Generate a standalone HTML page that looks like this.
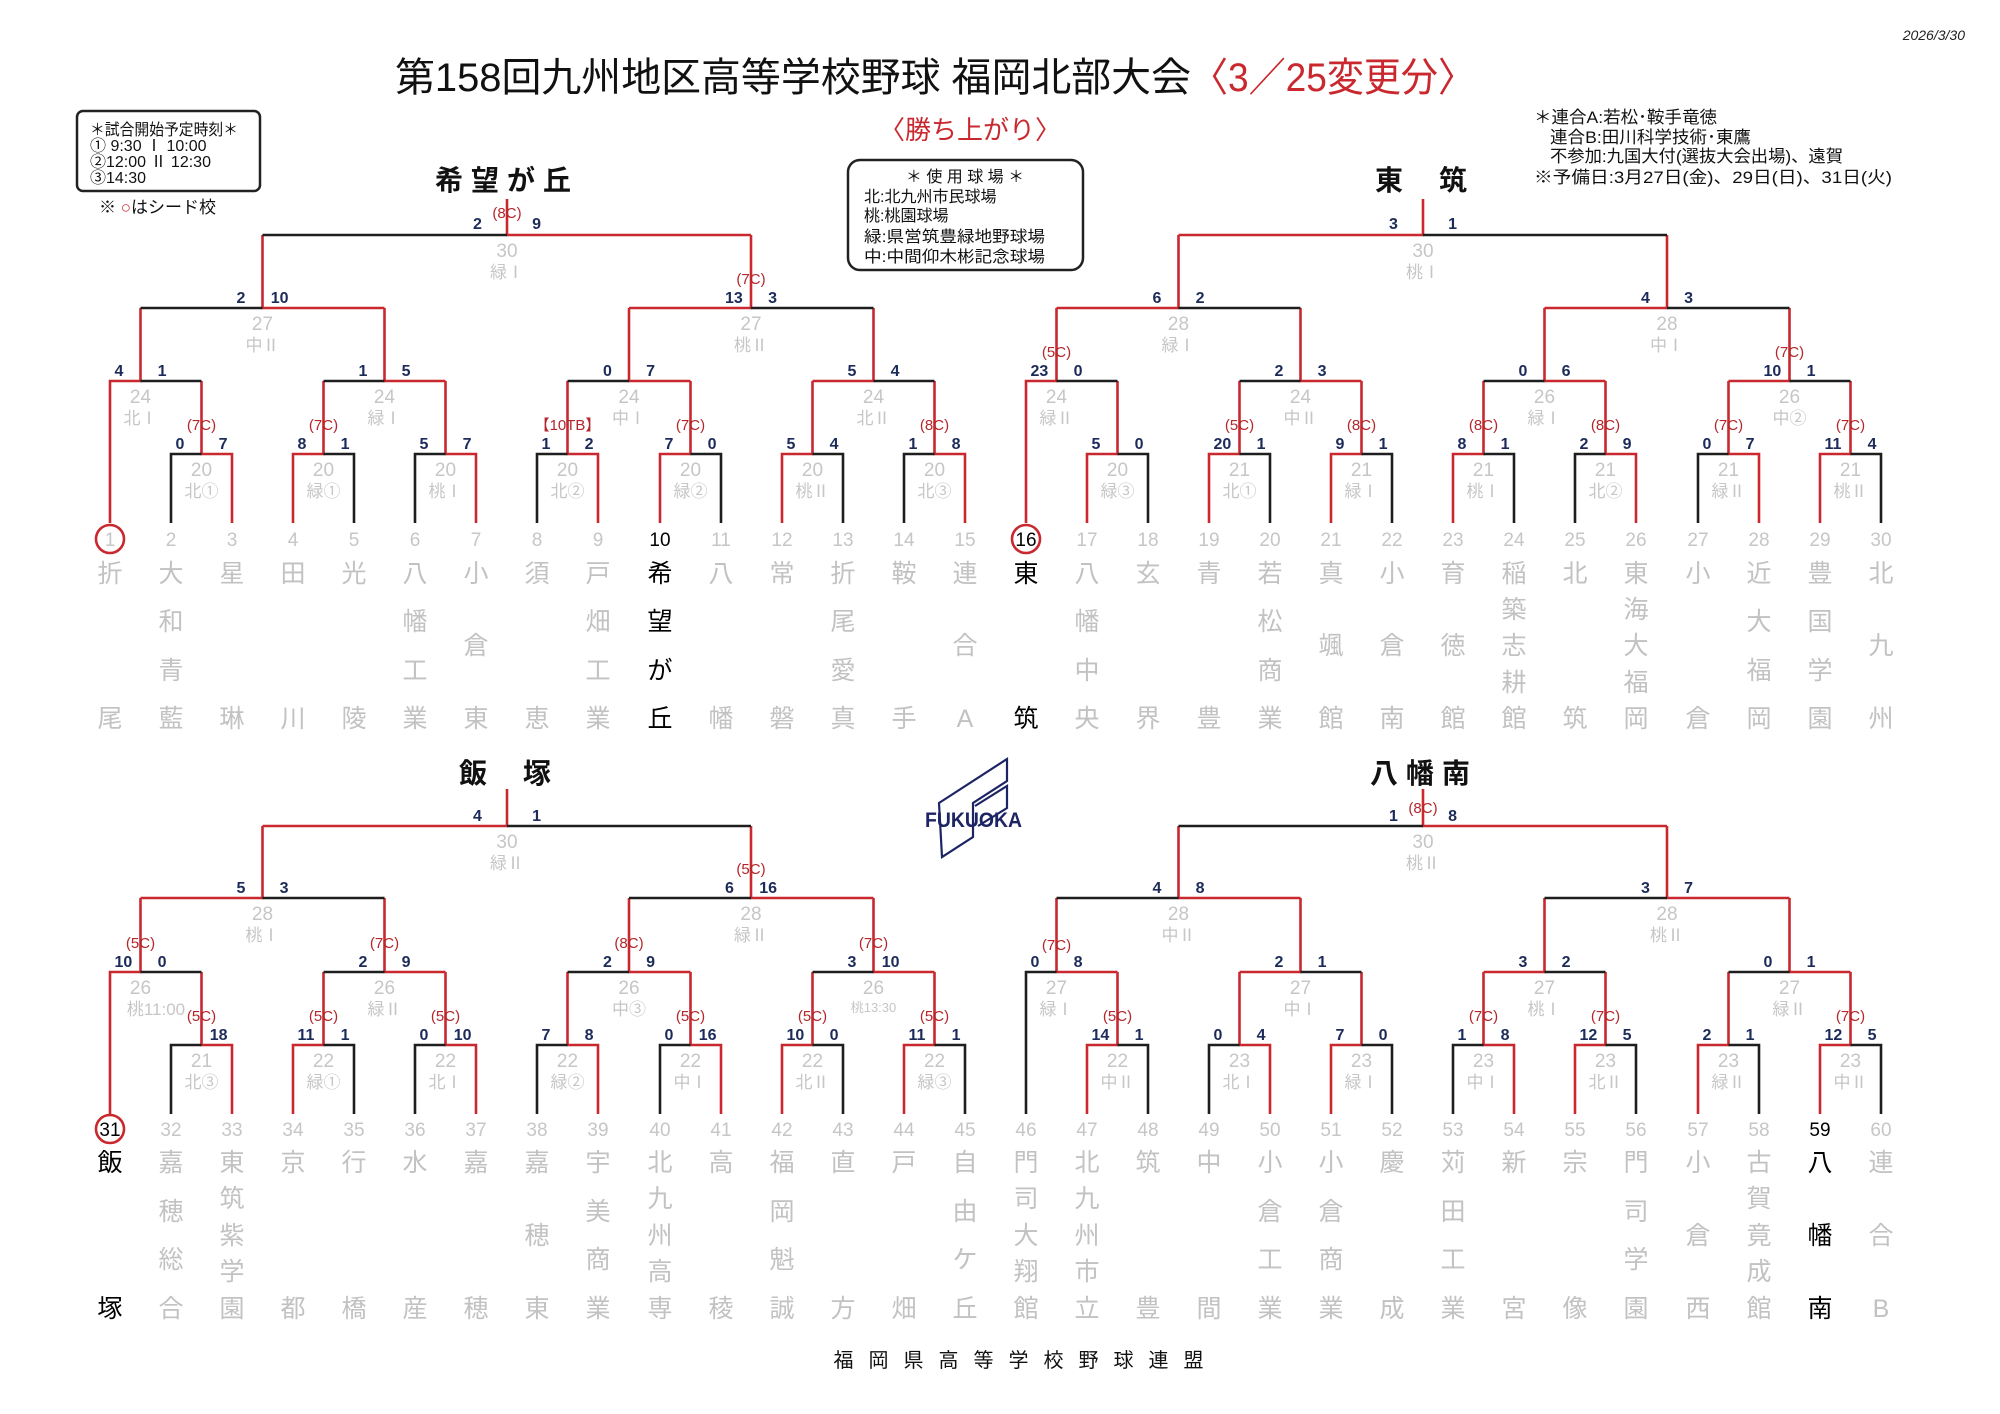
<!DOCTYPE html>
<html><head><meta charset="utf-8"><style>
html,body{margin:0;padding:0;background:#fff;}
svg{display:block}
.r{fill:none;stroke:#c8282e;stroke-width:2.6}
.k{fill:none;stroke:#1e1e1e;stroke-width:2.6}
.s{font:bold 16px "Liberation Sans",sans-serif;fill:#1c2b5a}
.e{text-anchor:end}
.g{font:19px "Liberation Sans",sans-serif;fill:#c6c6c6;text-anchor:middle}
.v{font:17px "Liberation Sans","Noto Sans CJK JP",sans-serif;fill:#c6c6c6;text-anchor:middle}
.n{font:15px "Liberation Sans","Noto Sans CJK JP",sans-serif;fill:#b3262b;text-anchor:middle}
.num{font:19px "Liberation Sans",sans-serif;fill:#c6c6c6;text-anchor:middle}
.t{font:25px "Liberation Sans","Noto Sans CJK JP",sans-serif;fill:#c2c2c2;text-anchor:middle}
.b{fill:#000}
.h{font:bold 28px "Liberation Sans","Noto Sans CJK JP",sans-serif;fill:#111;text-anchor:middle}
.j{font-family:"Liberation Sans","Noto Sans CJK JP",sans-serif}
</style></head><body>
<svg width="2000" height="1414" viewBox="0 0 2000 1414" xmlns="http://www.w3.org/2000/svg">
<rect width="2000" height="1414" fill="#fff"/>
<!-- header -->
<text x="1965" y="40" class="j" font-size="14" font-style="italic" text-anchor="end" fill="#222">2026/3/30</text>
<text x="395" y="91" class="j" font-size="40" fill="#111" textLength="796" lengthAdjust="spacingAndGlyphs">第158回九州地区高等学校野球 福岡北部大会</text>
<text x="1191" y="91" class="j" font-size="40" fill="#c8282e" textLength="284" lengthAdjust="spacingAndGlyphs">〈3／25変更分〉</text>
<text x="970" y="139" class="j" font-size="26" fill="#c8282e" text-anchor="middle">〈勝ち上がり〉</text>
<rect x="77" y="111" width="183" height="80" rx="6" fill="none" stroke="#222" stroke-width="2.5"/>
<g class="j" font-size="16" fill="#111">
<text x="90" y="135" textLength="148" lengthAdjust="spacingAndGlyphs">＊試合開始予定時刻＊</text>
<text x="90" y="151">①  9:30  Ⅰ 10:00</text>
<text x="90" y="167">②12:00  Ⅱ 12:30</text>
<text x="90" y="183">③14:30</text>
</g>
<text x="99" y="213" class="j" font-size="17" fill="#111">※ <tspan fill="#c8282e">○</tspan>はシード校</text>
<rect x="848" y="160" width="235" height="110" rx="12" fill="none" stroke="#222" stroke-width="2.5"/>
<g class="j" font-size="16" fill="#111">
<text x="965" y="182" text-anchor="middle">＊ 使 用 球 場 ＊</text>
<text x="864" y="202">北:北九州市民球場</text>
<text x="864" y="221">桃:桃園球場</text>
<text x="864" y="242" textLength="181" lengthAdjust="spacingAndGlyphs">緑:県営筑豊緑地野球場</text>
<text x="864" y="262" textLength="181" lengthAdjust="spacingAndGlyphs">中:中間仰木彬記念球場</text>
</g>
<g class="j" font-size="17" fill="#111">
<text x="1534" y="123" textLength="183" lengthAdjust="spacingAndGlyphs">＊連合A:若松･鞍手竜徳</text>
<text x="1550" y="143" textLength="201" lengthAdjust="spacingAndGlyphs">連合B:田川科学技術･東鷹</text>
<text x="1550" y="162" textLength="293" lengthAdjust="spacingAndGlyphs">不参加:九国大付(選抜大会出場)、遠賀</text>
<text x="1534" y="183" textLength="358" lengthAdjust="spacingAndGlyphs">※予備日:3月27日(金)、29日(日)、31日(火)</text>
</g>
<text x="507" y="190" class="h" letter-spacing="8">希望が丘</text>
<text x="1423" y="190" class="h" letter-spacing="4">東　筑</text>
<text x="507" y="783" class="h" letter-spacing="4">飯　塚</text>
<text x="1424" y="783" class="h" letter-spacing="8">八幡南</text>
<text x="1026" y="1367" class="j" font-size="20" fill="#111" text-anchor="middle" letter-spacing="15">福岡県高等学校野球連盟</text>
<!-- logo -->
<g fill="none" stroke="#1c2464" stroke-width="2.2">
<path d="M939 803 L1007 759 L1007 781 L973 803 L973 837 L942 857 Z"/>
<path d="M975 806 L1007 786 L1007 808 L978 826"/>
</g>
<text x="925" y="827" font-family="Liberation Sans,sans-serif" font-weight="bold" font-size="21" fill="#1c2464" textLength="97" lengthAdjust="spacingAndGlyphs">FUKUOKA</text>

<!-- TOP LINES -->
<path class="r" d="M201.5 381V454H232V523"/><path class="k" d="M201.5 454H171V523"/>
<path class="r" d="M323.5 381V454H293V523"/><path class="k" d="M323.5 454H354V523"/>
<path class="r" d="M445.5 381V454H476V523"/><path class="k" d="M445.5 454H415V523"/>
<path class="r" d="M567.5 381V454H598V523"/><path class="k" d="M567.5 454H537V523"/>
<path class="r" d="M690.5 381V454H660V523"/><path class="k" d="M690.5 454H721V523"/>
<path class="r" d="M812.5 381V454H782V523"/><path class="k" d="M812.5 454H843V523"/>
<path class="r" d="M934.5 381V454H965V523"/><path class="k" d="M934.5 454H904V523"/>
<path class="r" d="M140.5 308V381H110V523"/><path class="k" d="M140.5 381H201.5"/>
<path class="r" d="M384.5 308V381H445.5"/><path class="k" d="M384.5 381H323.5"/>
<path class="r" d="M629 308V381H690.5"/><path class="k" d="M629 381H567.5"/>
<path class="r" d="M873.5 308V381H812.5"/><path class="k" d="M873.5 381H934.5"/>
<path class="r" d="M262.5 235V308H384.5"/><path class="k" d="M262.5 308H140.5"/>
<path class="r" d="M751 235V308H629"/><path class="k" d="M751 308H873.5"/>
<path class="r" d="M507 199V235H751"/><path class="k" d="M507 235H262.5"/>

<path class="r" d="M1117.5 381V454H1087V523"/><path class="k" d="M1117.5 454H1148V523"/>
<path class="r" d="M1239.5 381V454H1209V523"/><path class="k" d="M1239.5 454H1270V523"/>
<path class="r" d="M1361.5 381V454H1331V523"/><path class="k" d="M1361.5 454H1392V523"/>
<path class="r" d="M1483.5 381V454H1453V523"/><path class="k" d="M1483.5 454H1514V523"/>
<path class="r" d="M1605.5 381V454H1636V523"/><path class="k" d="M1605.5 454H1575V523"/>
<path class="r" d="M1728.5 381V454H1759V523"/><path class="k" d="M1728.5 454H1698V523"/>
<path class="r" d="M1850.5 381V454H1820V523"/><path class="k" d="M1850.5 454H1881V523"/>
<path class="r" d="M1056.5 308V381H1026V523"/><path class="k" d="M1056.5 381H1117.5"/>
<path class="r" d="M1300.5 308V381H1361.5"/><path class="k" d="M1300.5 381H1239.5"/>
<path class="r" d="M1544.5 308V381H1605.5"/><path class="k" d="M1544.5 381H1483.5"/>
<path class="r" d="M1789.5 308V381H1728.5"/><path class="k" d="M1789.5 381H1850.5"/>
<path class="r" d="M1178.5 235V308H1056.5"/><path class="k" d="M1178.5 308H1300.5"/>
<path class="r" d="M1667 235V308H1544.5"/><path class="k" d="M1667 308H1789.5"/>
<path class="r" d="M1423 199V235H1178.5"/><path class="k" d="M1423 235H1667"/>

<!-- BOTTOM LINES -->
<path class="r" d="M201.5 972V1045H232V1114"/><path class="k" d="M201.5 1045H171V1114"/>
<path class="r" d="M323.5 972V1045H293V1114"/><path class="k" d="M323.5 1045H354V1114"/>
<path class="r" d="M445.5 972V1045H476V1114"/><path class="k" d="M445.5 1045H415V1114"/>
<path class="r" d="M567.5 972V1045H598V1114"/><path class="k" d="M567.5 1045H537V1114"/>
<path class="r" d="M690.5 972V1045H721V1114"/><path class="k" d="M690.5 1045H660V1114"/>
<path class="r" d="M812.5 972V1045H782V1114"/><path class="k" d="M812.5 1045H843V1114"/>
<path class="r" d="M934.5 972V1045H904V1114"/><path class="k" d="M934.5 1045H965V1114"/>
<path class="r" d="M140.5 898V972H110V1114"/><path class="k" d="M140.5 972H201.5"/>
<path class="r" d="M384.5 898V972H445.5"/><path class="k" d="M384.5 972H323.5"/>
<path class="r" d="M629 898V972H690.5"/><path class="k" d="M629 972H567.5"/>
<path class="r" d="M873.5 898V972H934.5"/><path class="k" d="M873.5 972H812.5"/>
<path class="r" d="M262.5 826V898H140.5"/><path class="k" d="M262.5 898H384.5"/>
<path class="r" d="M751 826V898H873.5"/><path class="k" d="M751 898H629"/>
<path class="r" d="M507 789V826H262.5"/><path class="k" d="M507 826H751"/>

<path class="r" d="M1117.5 972V1045H1087V1114"/><path class="k" d="M1117.5 1045H1148V1114"/>
<path class="r" d="M1239.5 972V1045H1270V1114"/><path class="k" d="M1239.5 1045H1209V1114"/>
<path class="r" d="M1361.5 972V1045H1331V1114"/><path class="k" d="M1361.5 1045H1392V1114"/>
<path class="r" d="M1483.5 972V1045H1514V1114"/><path class="k" d="M1483.5 1045H1453V1114"/>
<path class="r" d="M1605.5 972V1045H1575V1114"/><path class="k" d="M1605.5 1045H1636V1114"/>
<path class="r" d="M1728.5 972V1045H1698V1114"/><path class="k" d="M1728.5 1045H1759V1114"/>
<path class="r" d="M1850.5 972V1045H1820V1114"/><path class="k" d="M1850.5 1045H1881V1114"/>
<path class="r" d="M1056.5 898V972H1117.5"/><path class="k" d="M1056.5 972H1026V1114"/>
<path class="r" d="M1300.5 898V972H1239.5"/><path class="k" d="M1300.5 972H1361.5"/>
<path class="r" d="M1544.5 898V972H1483.5"/><path class="k" d="M1544.5 972H1605.5"/>
<path class="r" d="M1789.5 898V972H1850.5"/><path class="k" d="M1789.5 972H1728.5"/>
<path class="r" d="M1178.5 826V898H1300.5"/><path class="k" d="M1178.5 898H1056.5"/>
<path class="r" d="M1667 826V898H1789.5"/><path class="k" d="M1667 898H1544.5"/>
<path class="r" d="M1423 789V826H1667"/><path class="k" d="M1423 826H1178.5"/>

<!-- TOP TEXTS R1 -->
<text class="s" x="175.5" y="449">0</text><text class="s e" x="227.5" y="449">7</text><text class="g" x="201.5" y="476">20</text><text class="v" x="201.5" y="497">北①</text><text class="n" x="201.5" y="430">(7C)</text>
<text class="s" x="297.5" y="449">8</text><text class="s e" x="349.5" y="449">1</text><text class="g" x="323.5" y="476">20</text><text class="v" x="323.5" y="497">緑①</text><text class="n" x="323.5" y="430">(7C)</text>
<text class="s" x="419.5" y="449">5</text><text class="s e" x="471.5" y="449">7</text><text class="g" x="445.5" y="476">20</text><text class="v" x="445.5" y="497">桃Ⅰ</text>
<text class="s" x="541.5" y="449">1</text><text class="s e" x="593.5" y="449">2</text><text class="g" x="567.5" y="476">20</text><text class="v" x="567.5" y="497">北②</text><text class="n" x="567.5" y="430">【10TB】</text>
<text class="s" x="664.5" y="449">7</text><text class="s e" x="716.5" y="449">0</text><text class="g" x="690.5" y="476">20</text><text class="v" x="690.5" y="497">緑②</text><text class="n" x="690.5" y="430">(7C)</text>
<text class="s" x="786.5" y="449">5</text><text class="s e" x="838.5" y="449">4</text><text class="g" x="812.5" y="476">20</text><text class="v" x="812.5" y="497">桃Ⅱ</text>
<text class="s" x="908.5" y="449">1</text><text class="s e" x="960.5" y="449">8</text><text class="g" x="934.5" y="476">20</text><text class="v" x="934.5" y="497">北③</text><text class="n" x="934.5" y="430">(8C)</text>
<text class="s" x="1091.5" y="449">5</text><text class="s e" x="1143.5" y="449">0</text><text class="g" x="1117.5" y="476">20</text><text class="v" x="1117.5" y="497">緑③</text>
<text class="s" x="1213.5" y="449">20</text><text class="s e" x="1265.5" y="449">1</text><text class="g" x="1239.5" y="476">21</text><text class="v" x="1239.5" y="497">北①</text><text class="n" x="1239.5" y="430">(5C)</text>
<text class="s" x="1335.5" y="449">9</text><text class="s e" x="1387.5" y="449">1</text><text class="g" x="1361.5" y="476">21</text><text class="v" x="1361.5" y="497">緑Ⅰ</text><text class="n" x="1361.5" y="430">(8C)</text>
<text class="s" x="1457.5" y="449">8</text><text class="s e" x="1509.5" y="449">1</text><text class="g" x="1483.5" y="476">21</text><text class="v" x="1483.5" y="497">桃Ⅰ</text><text class="n" x="1483.5" y="430">(8C)</text>
<text class="s" x="1579.5" y="449">2</text><text class="s e" x="1631.5" y="449">9</text><text class="g" x="1605.5" y="476">21</text><text class="v" x="1605.5" y="497">北②</text><text class="n" x="1605.5" y="430">(8C)</text>
<text class="s" x="1702.5" y="449">0</text><text class="s e" x="1754.5" y="449">7</text><text class="g" x="1728.5" y="476">21</text><text class="v" x="1728.5" y="497">緑Ⅱ</text><text class="n" x="1728.5" y="430">(7C)</text>
<text class="s" x="1824.5" y="449">11</text><text class="s e" x="1876.5" y="449">4</text><text class="g" x="1850.5" y="476">21</text><text class="v" x="1850.5" y="497">桃Ⅱ</text><text class="n" x="1850.5" y="430">(7C)</text>
<!-- TOP R2 -->
<text class="s" x="114.5" y="376">4</text><text class="s e" x="166.5" y="376">1</text><text class="g" x="140.5" y="403">24</text><text class="v" x="140.5" y="424">北Ⅰ</text>
<text class="s" x="358.5" y="376">1</text><text class="s e" x="410.5" y="376">5</text><text class="g" x="384.5" y="403">24</text><text class="v" x="384.5" y="424">緑Ⅰ</text>
<text class="s" x="603" y="376">0</text><text class="s e" x="655" y="376">7</text><text class="g" x="629" y="403">24</text><text class="v" x="629" y="424">中Ⅰ</text>
<text class="s" x="847.5" y="376">5</text><text class="s e" x="899.5" y="376">4</text><text class="g" x="873.5" y="403">24</text><text class="v" x="873.5" y="424">北Ⅱ</text>
<text class="s" x="1030.5" y="376">23</text><text class="s e" x="1082.5" y="376">0</text><text class="g" x="1056.5" y="403">24</text><text class="v" x="1056.5" y="424">緑Ⅱ</text><text class="n" x="1056.5" y="357">(5C)</text>
<text class="s" x="1274.5" y="376">2</text><text class="s e" x="1326.5" y="376">3</text><text class="g" x="1300.5" y="403">24</text><text class="v" x="1300.5" y="424">中Ⅱ</text>
<text class="s" x="1518.5" y="376">0</text><text class="s e" x="1570.5" y="376">6</text><text class="g" x="1544.5" y="403">26</text><text class="v" x="1544.5" y="424">緑Ⅰ</text>
<text class="s" x="1763.5" y="376">10</text><text class="s e" x="1815.5" y="376">1</text><text class="g" x="1789.5" y="403">26</text><text class="v" x="1789.5" y="424">中②</text><text class="n" x="1789.5" y="357">(7C)</text>
<!-- TOP R3/R4 -->
<text class="s" x="236.5" y="303">2</text><text class="s e" x="288.5" y="303">10</text><text class="g" x="262.5" y="330">27</text><text class="v" x="262.5" y="351">中Ⅱ</text>
<text class="s" x="725" y="303">13</text><text class="s e" x="777" y="303">3</text><text class="g" x="751" y="330">27</text><text class="v" x="751" y="351">桃Ⅱ</text><text class="n" x="751" y="284">(7C)</text>
<text class="s" x="1152.5" y="303">6</text><text class="s e" x="1204.5" y="303">2</text><text class="g" x="1178.5" y="330">28</text><text class="v" x="1178.5" y="351">緑Ⅰ</text>
<text class="s" x="1641" y="303">4</text><text class="s e" x="1693" y="303">3</text><text class="g" x="1667" y="330">28</text><text class="v" x="1667" y="351">中Ⅰ</text>
<text class="s" x="473" y="229">2</text><text class="s e" x="541" y="229">9</text><text class="g" x="507" y="257">30</text><text class="v" x="507" y="278">緑Ⅰ</text><text class="n" x="507" y="218">(8C)</text>
<text class="s" x="1389" y="229">3</text><text class="s e" x="1457" y="229">1</text><text class="g" x="1423" y="257">30</text><text class="v" x="1423" y="278">桃Ⅰ</text>

<!-- BOTTOM R1 -->
<text class="s e" x="227.5" y="1040">18</text><text class="g" x="201.5" y="1067">21</text><text class="v" x="201.5" y="1088">北③</text><text class="n" x="201.5" y="1021">(5C)</text>
<text class="s" x="297.5" y="1040">11</text><text class="s e" x="349.5" y="1040">1</text><text class="g" x="323.5" y="1067">22</text><text class="v" x="323.5" y="1088">緑①</text><text class="n" x="323.5" y="1021">(5C)</text>
<text class="s" x="419.5" y="1040">0</text><text class="s e" x="471.5" y="1040">10</text><text class="g" x="445.5" y="1067">22</text><text class="v" x="445.5" y="1088">北Ⅰ</text><text class="n" x="445.5" y="1021">(5C)</text>
<text class="s" x="541.5" y="1040">7</text><text class="s e" x="593.5" y="1040">8</text><text class="g" x="567.5" y="1067">22</text><text class="v" x="567.5" y="1088">緑②</text>
<text class="s" x="664.5" y="1040">0</text><text class="s e" x="716.5" y="1040">16</text><text class="g" x="690.5" y="1067">22</text><text class="v" x="690.5" y="1088">中Ⅰ</text><text class="n" x="690.5" y="1021">(5C)</text>
<text class="s" x="786.5" y="1040">10</text><text class="s e" x="838.5" y="1040">0</text><text class="g" x="812.5" y="1067">22</text><text class="v" x="812.5" y="1088">北Ⅱ</text><text class="n" x="812.5" y="1021">(5C)</text>
<text class="s" x="908.5" y="1040">11</text><text class="s e" x="960.5" y="1040">1</text><text class="g" x="934.5" y="1067">22</text><text class="v" x="934.5" y="1088">緑③</text><text class="n" x="934.5" y="1021">(5C)</text>
<text class="s" x="1091.5" y="1040">14</text><text class="s e" x="1143.5" y="1040">1</text><text class="g" x="1117.5" y="1067">22</text><text class="v" x="1117.5" y="1088">中Ⅱ</text><text class="n" x="1117.5" y="1021">(5C)</text>
<text class="s" x="1213.5" y="1040">0</text><text class="s e" x="1265.5" y="1040">4</text><text class="g" x="1239.5" y="1067">23</text><text class="v" x="1239.5" y="1088">北Ⅰ</text>
<text class="s" x="1335.5" y="1040">7</text><text class="s e" x="1387.5" y="1040">0</text><text class="g" x="1361.5" y="1067">23</text><text class="v" x="1361.5" y="1088">緑Ⅰ</text>
<text class="s" x="1457.5" y="1040">1</text><text class="s e" x="1509.5" y="1040">8</text><text class="g" x="1483.5" y="1067">23</text><text class="v" x="1483.5" y="1088">中Ⅰ</text><text class="n" x="1483.5" y="1021">(7C)</text>
<text class="s" x="1579.5" y="1040">12</text><text class="s e" x="1631.5" y="1040">5</text><text class="g" x="1605.5" y="1067">23</text><text class="v" x="1605.5" y="1088">北Ⅱ</text><text class="n" x="1605.5" y="1021">(7C)</text>
<text class="s" x="1702.5" y="1040">2</text><text class="s e" x="1754.5" y="1040">1</text><text class="g" x="1728.5" y="1067">23</text><text class="v" x="1728.5" y="1088">緑Ⅱ</text>
<text class="s" x="1824.5" y="1040">12</text><text class="s e" x="1876.5" y="1040">5</text><text class="g" x="1850.5" y="1067">23</text><text class="v" x="1850.5" y="1088">中Ⅱ</text><text class="n" x="1850.5" y="1021">(7C)</text>
<!-- BOTTOM R2 -->
<text class="s" x="114.5" y="967">10</text><text class="s e" x="166.5" y="967">0</text><text class="g" x="140.5" y="994">26</text><text class="v" x="156" y="1015">桃11:00</text><text class="n" x="140.5" y="948">(5C)</text>
<text class="s" x="358.5" y="967">2</text><text class="s e" x="410.5" y="967">9</text><text class="g" x="384.5" y="994">26</text><text class="v" x="384.5" y="1015">緑Ⅱ</text><text class="n" x="384.5" y="948">(7C)</text>
<text class="s" x="603" y="967">2</text><text class="s e" x="655" y="967">9</text><text class="g" x="629" y="994">26</text><text class="v" x="629" y="1015">中③</text><text class="n" x="629" y="948">(8C)</text>
<text class="s" x="847.5" y="967">3</text><text class="s e" x="899.5" y="967">10</text><text class="g" x="873.5" y="994">26</text><text class="v" x="873.5" y="1012" style="font-size:13px">桃13:30</text><text class="n" x="873.5" y="948">(7C)</text>
<text class="s" x="1030.5" y="967">0</text><text class="s e" x="1082.5" y="967">8</text><text class="g" x="1056.5" y="994">27</text><text class="v" x="1056.5" y="1015">緑Ⅰ</text><text class="n" x="1056.5" y="950">(7C)</text>
<text class="s" x="1274.5" y="967">2</text><text class="s e" x="1326.5" y="967">1</text><text class="g" x="1300.5" y="994">27</text><text class="v" x="1300.5" y="1015">中Ⅰ</text>
<text class="s" x="1518.5" y="967">3</text><text class="s e" x="1570.5" y="967">2</text><text class="g" x="1544.5" y="994">27</text><text class="v" x="1544.5" y="1015">桃Ⅰ</text>
<text class="s" x="1763.5" y="967">0</text><text class="s e" x="1815.5" y="967">1</text><text class="g" x="1789.5" y="994">27</text><text class="v" x="1789.5" y="1015">緑Ⅱ</text>
<!-- BOTTOM R3/R4 -->
<text class="s" x="236.5" y="893">5</text><text class="s e" x="288.5" y="893">3</text><text class="g" x="262.5" y="920">28</text><text class="v" x="262.5" y="941">桃Ⅰ</text>
<text class="s" x="725" y="893">6</text><text class="s e" x="777" y="893">16</text><text class="g" x="751" y="920">28</text><text class="v" x="751" y="941">緑Ⅱ</text><text class="n" x="751" y="874">(5C)</text>
<text class="s" x="1152.5" y="893">4</text><text class="s e" x="1204.5" y="893">8</text><text class="g" x="1178.5" y="920">28</text><text class="v" x="1178.5" y="941">中Ⅱ</text>
<text class="s" x="1641" y="893">3</text><text class="s e" x="1693" y="893">7</text><text class="g" x="1667" y="920">28</text><text class="v" x="1667" y="941">桃Ⅱ</text>
<text class="s" x="473" y="821">4</text><text class="s e" x="541" y="821">1</text><text class="g" x="507" y="848">30</text><text class="v" x="507" y="869">緑Ⅱ</text>
<text class="s" x="1389" y="821">1</text><text class="s e" x="1457" y="821">8</text><text class="g" x="1423" y="848">30</text><text class="v" x="1423" y="869">桃Ⅱ</text><text class="n" x="1423" y="813">(8C)</text>

<!-- seed circles -->
<circle cx="110" cy="539" r="14" fill="none" stroke="#c8282e" stroke-width="2.6"/>
<circle cx="1026" cy="539" r="14" fill="none" stroke="#c8282e" stroke-width="2.6"/>
<circle cx="110" cy="1129" r="14" fill="none" stroke="#c8282e" stroke-width="2.6"/>

<!-- TOP numbers -->
<g class="num">
<text x="110" y="546">1</text><text x="171" y="546">2</text><text x="232" y="546">3</text><text x="293" y="546">4</text><text x="354" y="546">5</text><text x="415" y="546">6</text><text x="476" y="546">7</text><text x="537" y="546">8</text><text x="598" y="546">9</text><text x="660" y="546" fill="#000">10</text><text x="721" y="546">11</text><text x="782" y="546">12</text><text x="843" y="546">13</text><text x="904" y="546">14</text><text x="965" y="546">15</text>
<text x="1026" y="546" fill="#000">16</text><text x="1087" y="546">17</text><text x="1148" y="546">18</text><text x="1209" y="546">19</text><text x="1270" y="546">20</text><text x="1331" y="546">21</text><text x="1392" y="546">22</text><text x="1453" y="546">23</text><text x="1514" y="546">24</text><text x="1575" y="546">25</text><text x="1636" y="546">26</text><text x="1698" y="546">27</text><text x="1759" y="546">28</text><text x="1820" y="546">29</text><text x="1881" y="546">30</text>
</g>
<g class="num">
<text x="110" y="1136" fill="#000">31</text><text x="171" y="1136">32</text><text x="232" y="1136">33</text><text x="293" y="1136">34</text><text x="354" y="1136">35</text><text x="415" y="1136">36</text><text x="476" y="1136">37</text><text x="537" y="1136">38</text><text x="598" y="1136">39</text><text x="660" y="1136">40</text><text x="721" y="1136">41</text><text x="782" y="1136">42</text><text x="843" y="1136">43</text><text x="904" y="1136">44</text><text x="965" y="1136">45</text>
<text x="1026" y="1136">46</text><text x="1087" y="1136">47</text><text x="1148" y="1136">48</text><text x="1209" y="1136">49</text><text x="1270" y="1136">50</text><text x="1331" y="1136">51</text><text x="1392" y="1136">52</text><text x="1453" y="1136">53</text><text x="1514" y="1136">54</text><text x="1575" y="1136">55</text><text x="1636" y="1136">56</text><text x="1698" y="1136">57</text><text x="1759" y="1136">58</text><text x="1820" y="1136" fill="#000">59</text><text x="1881" y="1136">60</text>
</g>

<!-- TOP names -->
<g class="t">
<text><tspan x="110" y="582">折</tspan><tspan x="110" y="727">尾</tspan></text>
<text><tspan x="171" y="582">大</tspan><tspan x="171" y="630">和</tspan><tspan x="171" y="679">青</tspan><tspan x="171" y="727">藍</tspan></text>
<text><tspan x="232" y="582">星</tspan><tspan x="232" y="727">琳</tspan></text>
<text><tspan x="293" y="582">田</tspan><tspan x="293" y="727">川</tspan></text>
<text><tspan x="354" y="582">光</tspan><tspan x="354" y="727">陵</tspan></text>
<text><tspan x="415" y="582">八</tspan><tspan x="415" y="630">幡</tspan><tspan x="415" y="679">工</tspan><tspan x="415" y="727">業</tspan></text>
<text><tspan x="476" y="582">小</tspan><tspan x="476" y="654">倉</tspan><tspan x="476" y="727">東</tspan></text>
<text><tspan x="537" y="582">須</tspan><tspan x="537" y="727">恵</tspan></text>
<text><tspan x="598" y="582">戸</tspan><tspan x="598" y="630">畑</tspan><tspan x="598" y="679">工</tspan><tspan x="598" y="727">業</tspan></text>
<text class="b"><tspan x="660" y="582">希</tspan><tspan x="660" y="630">望</tspan><tspan x="660" y="679">が</tspan><tspan x="660" y="727">丘</tspan></text>
<text><tspan x="721" y="582">八</tspan><tspan x="721" y="727">幡</tspan></text>
<text><tspan x="782" y="582">常</tspan><tspan x="782" y="727">磐</tspan></text>
<text><tspan x="843" y="582">折</tspan><tspan x="843" y="630">尾</tspan><tspan x="843" y="679">愛</tspan><tspan x="843" y="727">真</tspan></text>
<text><tspan x="904" y="582">鞍</tspan><tspan x="904" y="727">手</tspan></text>
<text><tspan x="965" y="582">連</tspan><tspan x="965" y="654">合</tspan><tspan x="965" y="727">A</tspan></text>
<text class="b"><tspan x="1026" y="582">東</tspan><tspan x="1026" y="727">筑</tspan></text>
<text><tspan x="1087" y="582">八</tspan><tspan x="1087" y="630">幡</tspan><tspan x="1087" y="679">中</tspan><tspan x="1087" y="727">央</tspan></text>
<text><tspan x="1148" y="582">玄</tspan><tspan x="1148" y="727">界</tspan></text>
<text><tspan x="1209" y="582">青</tspan><tspan x="1209" y="727">豊</tspan></text>
<text><tspan x="1270" y="582">若</tspan><tspan x="1270" y="630">松</tspan><tspan x="1270" y="679">商</tspan><tspan x="1270" y="727">業</tspan></text>
<text><tspan x="1331" y="582">真</tspan><tspan x="1331" y="654">颯</tspan><tspan x="1331" y="727">館</tspan></text>
<text><tspan x="1392" y="582">小</tspan><tspan x="1392" y="654">倉</tspan><tspan x="1392" y="727">南</tspan></text>
<text><tspan x="1453" y="582">育</tspan><tspan x="1453" y="654">徳</tspan><tspan x="1453" y="727">館</tspan></text>
<text><tspan x="1514" y="582">稲</tspan><tspan x="1514" y="618">築</tspan><tspan x="1514" y="654">志</tspan><tspan x="1514" y="691">耕</tspan><tspan x="1514" y="727">館</tspan></text>
<text><tspan x="1575" y="582">北</tspan><tspan x="1575" y="727">筑</tspan></text>
<text><tspan x="1636" y="582">東</tspan><tspan x="1636" y="618">海</tspan><tspan x="1636" y="654">大</tspan><tspan x="1636" y="691">福</tspan><tspan x="1636" y="727">岡</tspan></text>
<text><tspan x="1698" y="582">小</tspan><tspan x="1698" y="727">倉</tspan></text>
<text><tspan x="1759" y="582">近</tspan><tspan x="1759" y="630">大</tspan><tspan x="1759" y="679">福</tspan><tspan x="1759" y="727">岡</tspan></text>
<text><tspan x="1820" y="582">豊</tspan><tspan x="1820" y="630">国</tspan><tspan x="1820" y="679">学</tspan><tspan x="1820" y="727">園</tspan></text>
<text><tspan x="1881" y="582">北</tspan><tspan x="1881" y="654">九</tspan><tspan x="1881" y="727">州</tspan></text>
</g>

<!-- BOTTOM names -->
<g class="t">
<text class="b"><tspan x="110" y="1171">飯</tspan><tspan x="110" y="1317">塚</tspan></text>
<text><tspan x="171" y="1171">嘉</tspan><tspan x="171" y="1220">穂</tspan><tspan x="171" y="1268">総</tspan><tspan x="171" y="1317">合</tspan></text>
<text><tspan x="232" y="1171">東</tspan><tspan x="232" y="1207">筑</tspan><tspan x="232" y="1244">紫</tspan><tspan x="232" y="1280">学</tspan><tspan x="232" y="1317">園</tspan></text>
<text><tspan x="293" y="1171">京</tspan><tspan x="293" y="1317">都</tspan></text>
<text><tspan x="354" y="1171">行</tspan><tspan x="354" y="1317">橋</tspan></text>
<text><tspan x="415" y="1171">水</tspan><tspan x="415" y="1317">産</tspan></text>
<text><tspan x="476" y="1171">嘉</tspan><tspan x="476" y="1317">穂</tspan></text>
<text><tspan x="537" y="1171">嘉</tspan><tspan x="537" y="1244">穂</tspan><tspan x="537" y="1317">東</tspan></text>
<text><tspan x="598" y="1171">宇</tspan><tspan x="598" y="1220">美</tspan><tspan x="598" y="1268">商</tspan><tspan x="598" y="1317">業</tspan></text>
<text><tspan x="660" y="1171">北</tspan><tspan x="660" y="1207">九</tspan><tspan x="660" y="1244">州</tspan><tspan x="660" y="1280">高</tspan><tspan x="660" y="1317">専</tspan></text>
<text><tspan x="721" y="1171">高</tspan><tspan x="721" y="1317">稜</tspan></text>
<text><tspan x="782" y="1171">福</tspan><tspan x="782" y="1220">岡</tspan><tspan x="782" y="1268">魁</tspan><tspan x="782" y="1317">誠</tspan></text>
<text><tspan x="843" y="1171">直</tspan><tspan x="843" y="1317">方</tspan></text>
<text><tspan x="904" y="1171">戸</tspan><tspan x="904" y="1317">畑</tspan></text>
<text><tspan x="965" y="1171">自</tspan><tspan x="965" y="1220">由</tspan><tspan x="965" y="1268">ケ</tspan><tspan x="965" y="1317">丘</tspan></text>
<text><tspan x="1026" y="1171">門</tspan><tspan x="1026" y="1207">司</tspan><tspan x="1026" y="1244">大</tspan><tspan x="1026" y="1280">翔</tspan><tspan x="1026" y="1317">館</tspan></text>
<text><tspan x="1087" y="1171">北</tspan><tspan x="1087" y="1207">九</tspan><tspan x="1087" y="1244">州</tspan><tspan x="1087" y="1280">市</tspan><tspan x="1087" y="1317">立</tspan></text>
<text><tspan x="1148" y="1171">筑</tspan><tspan x="1148" y="1317">豊</tspan></text>
<text><tspan x="1209" y="1171">中</tspan><tspan x="1209" y="1317">間</tspan></text>
<text><tspan x="1270" y="1171">小</tspan><tspan x="1270" y="1220">倉</tspan><tspan x="1270" y="1268">工</tspan><tspan x="1270" y="1317">業</tspan></text>
<text><tspan x="1331" y="1171">小</tspan><tspan x="1331" y="1220">倉</tspan><tspan x="1331" y="1268">商</tspan><tspan x="1331" y="1317">業</tspan></text>
<text><tspan x="1392" y="1171">慶</tspan><tspan x="1392" y="1317">成</tspan></text>
<text><tspan x="1453" y="1171">苅</tspan><tspan x="1453" y="1220">田</tspan><tspan x="1453" y="1268">工</tspan><tspan x="1453" y="1317">業</tspan></text>
<text><tspan x="1514" y="1171">新</tspan><tspan x="1514" y="1317">宮</tspan></text>
<text><tspan x="1575" y="1171">宗</tspan><tspan x="1575" y="1317">像</tspan></text>
<text><tspan x="1636" y="1171">門</tspan><tspan x="1636" y="1220">司</tspan><tspan x="1636" y="1268">学</tspan><tspan x="1636" y="1317">園</tspan></text>
<text><tspan x="1698" y="1171">小</tspan><tspan x="1698" y="1244">倉</tspan><tspan x="1698" y="1317">西</tspan></text>
<text><tspan x="1759" y="1171">古</tspan><tspan x="1759" y="1207">賀</tspan><tspan x="1759" y="1244">竟</tspan><tspan x="1759" y="1280">成</tspan><tspan x="1759" y="1317">館</tspan></text>
<text class="b"><tspan x="1820" y="1171">八</tspan><tspan x="1820" y="1244">幡</tspan><tspan x="1820" y="1317">南</tspan></text>
<text><tspan x="1881" y="1171">連</tspan><tspan x="1881" y="1244">合</tspan><tspan x="1881" y="1317">B</tspan></text>
</g>
</svg>
</body></html>
